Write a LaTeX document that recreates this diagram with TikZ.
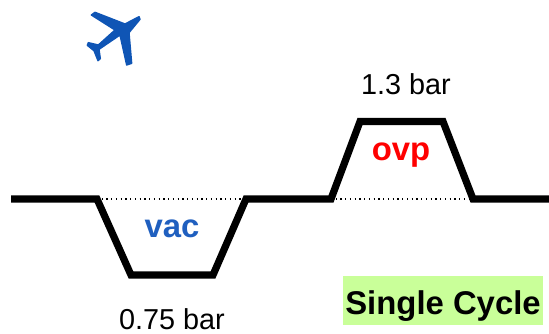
\documentclass[tikz,border=0pt]{standalone}
\usepackage{fontspec}
\setmainfont{Liberation Sans}
\definecolor{planeblue}{HTML}{0F55B5}
\definecolor{vacblue}{HTML}{1F5FBF}
\definecolor{cyclegreen}{HTML}{C9FF99}
\tikzset{
  wave/.style={line width=4.1pt, line join=miter},
  level/.style={dotted, line width=0.7pt},
  barlabel/.style={inner sep=0pt, font=\fontsize{16.4}{18}\selectfont},
  cyclelabel/.style={inner sep=0pt, font=\fontsize{18.7}{20}\selectfont\bfseries}
}
\begin{document}
\begin{tikzpicture}
  \useasboundingbox (0,0) rectangle (10.98,6.68);

  % corners of the pressure cycle
  \coordinate (A) at (0.22,2.70);
  \coordinate (B) at (1.94,2.70);
  \coordinate (C) at (2.62,1.18);
  \coordinate (D) at (4.26,1.18);
  \coordinate (E) at (4.92,2.70);
  \coordinate (F) at (6.62,2.70);
  \coordinate (G) at (7.20,4.25);
  \coordinate (H) at (8.86,4.25);
  \coordinate (I) at (9.46,2.70);
  \coordinate (J) at (10.98,2.70);

  \draw[level] (B)--(E);
  \draw[level] (F)--(I);
  \draw[wave] (A)--(B)--(C)--(D)--(E)--(F)--(G)--(H)--(I)--(J);

  \node[barlabel] (high) at (8.12,5.00) {1.3 bar};
  \node[barlabel] (low) at (3.44,0.29) {0.75 bar};
  \node[cyclelabel, text=vacblue] (vac) at (3.44,2.10) {vac};
  \node[cyclelabel, text=red] (ovp) at (8.02,3.58) {ovp};

  \fill[cyclegreen] (6.86,0.18) rectangle (10.86,1.16);
  \node[cyclelabel] (single) at (8.86,0.56) {Single Cycle};

  % plane
  \begin{scope}[shift={(1.4,6.68)}, x=0.00667cm, y=-0.00667cm]
    \filldraw[planeblue, line width=0.8pt, line join=round]
      (207,50)--(165,72)--(75,37)--(64,45)--(135,90)--(85,135)--(55,128)--(52,136)
      --(72,152)--(84,182)--(91,176)--(87,148)--(150,105)--(170,195)--(185,190)
      --(177,98)--(210,58)--cycle;
  \end{scope}
\end{tikzpicture}
\end{document}
